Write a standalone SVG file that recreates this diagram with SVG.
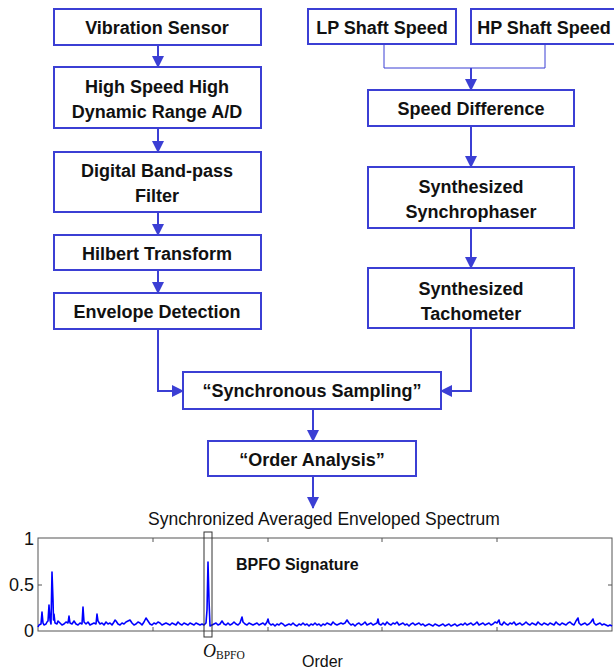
<svg xmlns="http://www.w3.org/2000/svg" width="614" height="672" viewBox="0 0 614 672">
<style>
.box{fill:#fff;stroke:#3b3fd4;stroke-width:2}
.t{font-family:"Liberation Sans",Arial,sans-serif;font-weight:bold;font-size:18px;fill:#111;text-anchor:middle}
.c{fill:none;stroke:#3b3fd4;stroke-width:2}
.thin{fill:none;stroke:#3b3fd4;stroke-width:1}
.ax{font-family:"Liberation Sans",Arial,sans-serif;font-size:18px;fill:#111}
</style>
<defs>
<marker id="ah" markerUnits="userSpaceOnUse" markerWidth="12" markerHeight="12" refX="11" refY="6" orient="auto">
<path d="M0,0 L12,6 L0,12 Z" fill="#3b3fd4"/>
</marker>
</defs>
<rect width="614" height="672" fill="#fff"/>
<g id="connectors">
<path class="c" d="M158,45 V67" marker-end="url(#ah)"/>
<path class="c" d="M158,128 V152" marker-end="url(#ah)"/>
<path class="c" d="M158,212 V235" marker-end="url(#ah)"/>
<path class="c" d="M158,270 V293" marker-end="url(#ah)"/>
<path class="c" d="M158,329 V391 H183" marker-end="url(#ah)"/>
<path class="thin" d="M384,44 V68 H545 V44"/>
<path class="c" d="M471,68 V90" marker-end="url(#ah)"/>
<path class="c" d="M471,126 V167" marker-end="url(#ah)"/>
<path class="c" d="M471,228 V268" marker-end="url(#ah)"/>
<path class="c" d="M471,328 V391 H441" marker-end="url(#ah)"/>
<path class="c" d="M313,409 V441" marker-end="url(#ah)"/>
<path class="c" d="M313,476 V508" marker-end="url(#ah)"/>
</g>
<g id="vibration-sensor"><rect class="box" x="54" y="9" width="207" height="36"/><text class="t" x="157" y="34">Vibration Sensor</text></g>
<g id="ad"><rect class="box" x="54" y="67" width="207" height="61"/><text class="t" x="157" y="93">High Speed High</text><text class="t" x="157" y="118">Dynamic Range A/D</text></g>
<g id="bandpass"><rect class="box" x="54" y="152" width="207" height="60"/><text class="t" x="157" y="177">Digital Band-pass</text><text class="t" x="157" y="202">Filter</text></g>
<g id="hilbert"><rect class="box" x="54" y="235" width="207" height="35"/><text class="t" x="157" y="260">Hilbert Transform</text></g>
<g id="envelope"><rect class="box" x="54" y="293" width="207" height="36"/><text class="t" x="157" y="318">Envelope Detection</text></g>
<g id="lp"><rect class="box" x="308" y="9" width="148" height="35"/><text class="t" x="382" y="34">LP Shaft Speed</text></g>
<g id="hp"><rect class="box" x="471" y="9" width="150" height="35"/><text class="t" x="544" y="34">HP Shaft Speed</text></g>
<g id="speed-diff"><rect class="box" x="368" y="90" width="206" height="36"/><text class="t" x="471" y="115">Speed Difference</text></g>
<g id="synchrophaser"><rect class="box" x="368" y="167" width="206" height="61"/><text class="t" x="471" y="193">Synthesized</text><text class="t" x="471" y="218">Synchrophaser</text></g>
<g id="tachometer"><rect class="box" x="368" y="268" width="206" height="60"/><text class="t" x="471" y="295">Synthesized</text><text class="t" x="471" y="320">Tachometer</text></g>
<g id="sync-sampling"><rect class="box" x="183" y="372" width="258" height="37"/><text class="t" x="312" y="397">“Synchronous Sampling”</text></g>
<g id="order-analysis"><rect class="box" x="208" y="441" width="208" height="35"/><text class="t" x="312" y="466">“Order Analysis”</text></g>
<g id="chart">
<text x="324" y="525" font-family="Liberation Sans,Arial,sans-serif" font-size="17.5" fill="#111" text-anchor="middle">Synchronized Averaged Enveloped Spectrum</text>
<rect x="38" y="538" width="574" height="93" fill="none" stroke="#555" stroke-width="1"/>
<path d="M153,538v4M268,538v4M382,538v4M497,538v4M153,631v-4M268,631v-4M382,631v-4M497,631v-4M38,585h4M612,585h-4" stroke="#555" stroke-width="1"/>
<text class="ax" x="34" y="545" text-anchor="end">1</text>
<text class="ax" x="34" y="591" text-anchor="end">0.5</text>
<text class="ax" x="34" y="637" text-anchor="end">0</text>
<polyline fill="none" stroke="#0000ff" stroke-width="1.6" stroke-linejoin="round" points="38,627 39,625 41,624 42,612 43,623 44,625 46,624 47,622 48,621 49,605 50,620 51,624 52,572 53,600 53.5,620 54,614 55,623 57,624 58,621 60,623 62,625 64,624 66,622 68,623 69,616 70,623 72,624 74,621 76,624 78,625 80,623 82,624 83,607 84,622 86,624 88,622 90,625 92,624 94,623 96,624 97,614 98,621 100,624 102,623 104,625 106,622 108,624 110,623 112,625 114,622 115,620 116,621 118,624 120,625 122,623 124,624 126,622 128,621 130,620 132,623 134,625 136,624 138,622 140,623 142,625 144,622 146,618 148,621 150,624 152,625 154,623 156,624 158,622 160,623 162,625 164,624 166,623 168,624 170,625 172,623 174,624 176,625 178,622 180,624 182,625 184,623 186,624 188,625 190,623 192,624 194,625 196,623 198,624 200,625 202,624 204,625 206,623 207,610 208,562 209,600 210,626 212,625 214,624 216,623 218,625 220,624 222,621 224,624 226,625 228,623 230,625 232,624 234,622 236,624 238,625 240,623 242,617 243,622 245,624 247,625 249,623 251,624 253,625 255,624 257,623 259,625 261,624 263,623 265,625 267,622 268,619 269,623 271,625 273,624 275,626 277,624 279,625 281,623 283,624 285,626 287,625 289,624 291,625 293,623 295,625 297,626 299,624 301,625 303,623 305,625 307,624 309,626 311,624 313,625 315,623 317,625 319,624 321,626 323,624 325,625 327,623 329,624 331,625 333,622 335,624 337,625 339,624 341,623 343,624 345,623 347,620 349,623 351,625 353,624 355,626 357,624 359,623 361,625 363,624 365,622 367,625 369,624 371,623 373,625 375,624 377,623 378,619 379,624 381,625 383,623 385,625 387,622 389,624 391,625 393,623 395,624 397,622 399,625 401,624 403,623 405,625 407,624 409,626 411,624 413,623 415,625 417,624 419,623 421,625 423,624 425,626 427,625 429,624 431,625 433,626 435,624 437,625 439,626 441,625 443,624 445,626 447,625 449,624 451,626 453,625 455,624 457,626 459,625 461,624 463,625 465,623 467,625 469,624 471,623 473,625 475,624 477,622 479,625 481,624 483,623 485,625 487,624 489,623 491,625 493,624 495,622 497,623 499,620 500,624 502,625 504,622 506,624 508,625 510,623 512,624 514,622 516,625 518,624 520,623 522,625 524,624 526,622 528,624 530,625 532,623 534,624 536,625 538,622 540,624 542,625 544,623 546,624 548,625 550,623 552,624 554,625 556,622 558,624 560,625 562,623 564,624 566,625 568,623 570,622 572,624 574,625 576,621 578,618 579,623 581,625 583,624 585,623 587,625 589,624 591,622 593,619 594,623 596,625 598,624 600,623 602,625 604,624 606,625 608,626 610,625 612,626"/>
<rect x="204" y="532" width="8" height="105" fill="none" stroke="#333" stroke-width="1"/>
<text x="236" y="570" font-family="Liberation Sans,Arial,sans-serif" font-weight="bold" font-size="16" fill="#111">BPFO Signature</text>
<text x="203" y="657" font-family="Liberation Serif,Times New Roman,serif" fill="#111"><tspan font-style="italic" font-size="18">O</tspan><tspan font-size="11.5" dy="2">BPFO</tspan></text>
<text x="302" y="667" font-family="Liberation Sans,Arial,sans-serif" font-size="16" fill="#111">Order</text>
</g>
</svg>
